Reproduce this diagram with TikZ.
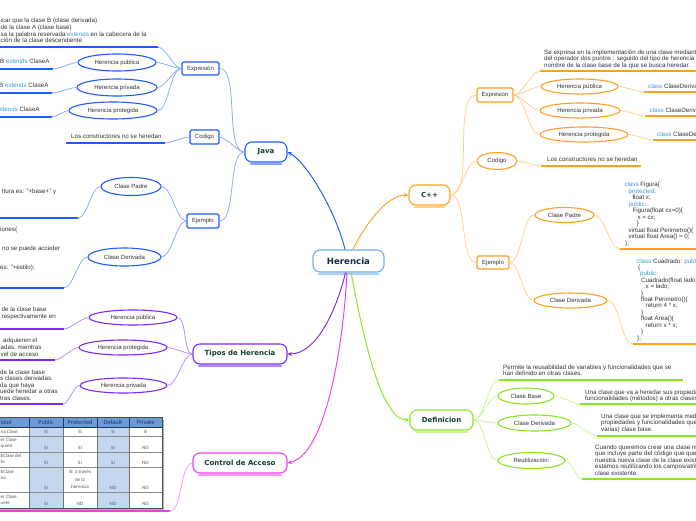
\documentclass[tikz,border=0pt]{standalone}
\usepackage{fontspec}
\setmainfont{Liberation Sans}
\newfontfamily\topicfont{DejaVu Sans}
\newfontfamily\tabfont{Carlito}
\usetikzlibrary{shapes.geometric,arrows.meta}
\definecolor{javaB}{HTML}{1F5BFF}
\definecolor{javaL}{HTML}{8AA8FF}
\definecolor{cppO}{HTML}{FFA022}
\definecolor{cppL}{HTML}{FFD08A}
\definecolor{tipP}{HTML}{7B2CF5}
\definecolor{tipL}{HTML}{B38CFF}
\definecolor{ctlM}{HTML}{F03CF0}
\definecolor{ctlL}{HTML}{F59AF5}
\definecolor{defG}{HTML}{88E820}
\definecolor{defL}{HTML}{C5F59A}
\definecolor{herB}{HTML}{6BB0E3}
\definecolor{herL}{HTML}{A9D1F0}
\definecolor{herT}{HTML}{18284A}
\definecolor{topicT}{HTML}{133D30}
\definecolor{kwc}{HTML}{3A9BD9}
\definecolor{txt}{HTML}{333333}
\definecolor{tabH}{HTML}{6A9AD8}
\definecolor{tabS}{HTML}{C5D7EE}
\definecolor{tabT}{HTML}{555555}
\definecolor{tabHT}{HTML}{1F3864}
\newcommand{\kwd}[1]{\textcolor{kwc}{#1}}
\tikzset{
  topic/.style={draw, line width=1.1pt, rounded corners=7pt, fill=white, minimum height=20pt, inner sep=0pt,
    font=\topicfont\bfseries\fontsize{7}{8}\selectfont, text=topicT},
  subbox/.style={draw, line width=1.1pt, rounded corners=1.5pt, fill=white, minimum height=14pt, inner sep=0pt,
    font=\fontsize{6}{7}\selectfont, text=txt},
  oval/.style={ellipse, draw, line width=1.1pt, fill=white, minimum height=15pt, inner sep=0pt,
    font=\fontsize{6}{7}\selectfont, text=txt},
  leaf/.style={inner sep=0pt, align=left, font=\fontsize{6.2}{6.6}\selectfont, text=txt, anchor=north west},
  uline/.style={line width=1.6pt},
  conn/.style={line width=0.75pt},
  gl/.style={out=180,in=0,looseness=0.6},
  gr/.style={out=0,in=180,looseness=0.6},
  mainarrow/.style={line width=0.95pt, -{Stealth[length=4.5pt,width=4pt]}},
  tabcell/.style={inner sep=0pt, font=\tabfont\fontsize{5}{5.6}\selectfont, text=tabT, align=center},
  tshadow/.style={line width=1.3pt, line cap=round},
}
\begin{document}
\begin{tikzpicture}[x=1pt,y=-1pt]
\clip (0,0) rectangle (696,520);
\fill[white] (0,0) rectangle (696,520);

% ================= main topics
\node[topic, draw=herB, text=herT, minimum width=71pt, minimum height=22pt,
  font=\topicfont\bfseries\fontsize{8.6}{10}\selectfont] (her) at (348.5,261) {Herencia};
\node[topic, draw=javaB, minimum width=42pt] (java) at (266,152) {Java};
\node[topic, draw=cppO, minimum width=41pt] (cpp) at (429.5,195) {C++};
\node[topic, draw=tipP, minimum width=94pt] (tipos) at (240,354) {Tipos de Herencia};
\node[topic, draw=ctlM, minimum width=94pt] (ctl) at (240,463) {Control de Acceso};
\node[topic, draw=defG, minimum width=63pt] (def) at (441.5,420) {Definicion};

\draw[tshadow, herL] ([xshift=6pt,yshift=-1.3pt]her.south west) -- ([xshift=-6pt,yshift=-1.3pt]her.south east);
\draw[tshadow, javaL] ([xshift=6pt,yshift=-1.3pt]java.south west) -- ([xshift=-6pt,yshift=-1.3pt]java.south east);
\draw[tshadow, cppL] ([xshift=6pt,yshift=-1.3pt]cpp.south west) -- ([xshift=-6pt,yshift=-1.3pt]cpp.south east);
\draw[tshadow, tipL] ([xshift=6pt,yshift=-1.3pt]tipos.south west) -- ([xshift=-6pt,yshift=-1.3pt]tipos.south east);
\draw[tshadow, ctlL] ([xshift=6pt,yshift=-1.3pt]ctl.south west) -- ([xshift=-6pt,yshift=-1.3pt]ctl.south east);
\draw[tshadow, defL] ([xshift=6pt,yshift=-1.3pt]def.south west) -- ([xshift=-6pt,yshift=-1.3pt]def.south east);

\draw[mainarrow, javaB] ([xshift=-3.5pt]her.north) .. controls (337,215) and (308,163) .. (java.east);
\draw[mainarrow, cppO] ([xshift=4.5pt]her.north) .. controls (362,230) and (385,195) .. (cpp.west);
\draw[mainarrow, tipP] ([xshift=-3pt]her.south) .. controls (338,305) and (318,354) .. (tipos.east);
\draw[mainarrow, ctlM] ([xshift=-1.5pt]her.south) .. controls (343,350) and (325,455) .. (ctl.east);
\draw[mainarrow, defG] ([xshift=2.5pt]her.south) .. controls (362,330) and (380,420) .. (def.west);

% ================= Java branch
\node[subbox, draw=javaB, minimum width=37pt, minimum height=13pt] (jexp) at (200.5,68.5) {Expresión};
\node[subbox, draw=javaB, minimum width=29pt] (jcod) at (204.5,137) {Codigo};
\node[subbox, draw=javaB, minimum width=32pt] (jeje) at (203,221) {Ejemplo};
\node[oval, draw=javaB, minimum width=78pt, minimum height=17pt] (jpub) at (117,62.5) {Herencia publica};
\node[oval, draw=javaB, minimum width=80pt, minimum height=17pt] (jpriv) at (117,87.5) {Herencia privada};
\node[oval, draw=javaB, minimum width=88pt, minimum height=17pt] (jprot) at (113,110.5) {Herencia protegida};
\node[oval, draw=javaB, minimum width=60pt, minimum height=18pt] (jpad) at (131,186.5) {Clase Padre};
\node[oval, draw=javaB, minimum width=73pt, minimum height=18pt] (jder) at (124.5,257) {Clase Derivada};

\draw[uline, javaB] (-3,47) -- (158,47) coordinate (ju0);
\draw[uline, javaB] (-3,69) -- (53,69) coordinate (ju1);
\draw[uline, javaB] (-3,93) -- (52,93) coordinate (ju2);
\draw[uline, javaB] (-3,117) -- (52,117) coordinate (ju3);
\draw[uline, javaB] (66,143) -- (165,143) coordinate (jcu);
\draw[uline, javaB] (-3,218) -- (78,218) coordinate (jpu);
\draw[uline, javaB] (-3,288) -- (64,288) coordinate (jdu);

\node[leaf] (jt0) at (0.5,18.3) {icar que la clase B (clase derivada)\\de la clase A (clase base)\\sa la palabra reservada \kwd{extends} en la cabecera de la\\ción de la clase descendiente};
\node[leaf] (jt1) at (0,59.3) {B \kwd{extends} ClaseA};
\node[leaf] (jt2) at (-1,83.3) {B \kwd{extends} ClaseA};
\node[leaf] (jt3) at (-4,107.3) {\kwd{extends} ClaseA};
\node[leaf] (jtc) at (71,134.3) {Los constructores no se heredan};
\node[leaf] (jtp) at (2,189.3) {ltura es: "+base+" y};
\node[leaf] (jtd1) at (0,227.3) {iones\{};
\node[leaf] (jtd2) at (2,246.3) {no se puede acceder};
\node[leaf] (jtd3) at (0,265.3) {es: "+estilo);};

\begin{scope}[conn, javaL]
\draw (java.west) to[gl] (jexp.east);
\draw (java.west) to[gl] (jcod.east);
\draw (java.west) to[gl] (jeje.east);
\draw (jexp.west) to[gl] (ju0);
\draw (jexp.west) to[gl] (jpub.east);
\draw (jexp.west) to[gl] (jpriv.east);
\draw (jexp.west) to[gl] (jprot.east);
\draw (jpub.west) to[gl] (ju1);
\draw (jpriv.west) to[gl] (ju2);
\draw (jprot.west) to[gl] (ju3);
\draw (jcod.west) to[gl] (jcu);
\draw (jeje.west) to[gl] (jpad.east);
\draw (jeje.west) to[gl] (jder.east);
\draw (jpad.west) to[gl] (jpu);
\draw (jder.west) to[gl] (jdu);
\end{scope}

% ================= Tipos de Herencia
\node[oval, draw=tipP, minimum width=88pt] (tpub) at (133,317.5) {Herencia pública};
\node[oval, draw=tipP, minimum width=88pt] (tprot) at (123,347.5) {Herencia protegida};
\node[oval, draw=tipP, minimum width=87pt] (tpriv) at (123.5,385.5) {Herencia privada};
\draw[uline, tipP] (-3,329) -- (64,329) coordinate (tu1);
\draw[uline, tipP] (-3,360) -- (55,360) coordinate (tu2);
\draw[uline, tipP] (-3,404) -- (63,404) coordinate (tu3);
\node[leaf] (tt1) at (1.5,307.3) {de la clase base\\respectivamente en};
\node[leaf] (tt2) at (0.5,338.3) {\hspace*{2.5pt}adquieren el\\adas, mientras\\vel de acceso};
\node[leaf] (tt3) at (0,369.3) {de la clase base\\s clases derivadas.\\da que haya\\uede heredar a otras\\tras clases.};
\begin{scope}[conn, tipL]
\draw (tipos.west) to[gl] (tpub.east);
\draw (tipos.west) to[gl] (tprot.east);
\draw (tipos.west) to[gl] (tpriv.east);
\draw (tpub.west) to[gl] (tu1);
\draw (tprot.west) to[gl] (tu2);
\draw (tpriv.west) to[gl] (tu3);
\end{scope}

% ================= Control de Acceso (table)
\fill[black!30] (-10,419.5) rectangle (164,510);
\fill[white] (-10,417) rectangle (162,508);
\fill[tabH] (-10,417) rectangle (162,427);
\fill[tabS] (29,427) rectangle (63,508);
\fill[tabS] (97,427) rectangle (129,508);
\draw[black!45, line width=0.3pt] (-10,436) -- (162,436) (-10,452) -- (162,452) (-10,467) -- (162,467) (-10,492) -- (162,492);
\draw[black!55, line width=0.3pt] (29,427) -- (29,508) (63,427) -- (63,508) (97,427) -- (97,508) (129,427) -- (129,508);
\draw[tabHT, line width=0.5pt] (29,417) -- (29,427) (63,417) -- (63,427) (97,417) -- (97,427) (129,417) -- (129,427) (-10,427) -- (162,427);
\draw[black!70, line width=0.6pt] (-10,417) rectangle (162,508);
\begin{scope}[tabcell]
\node[font=\tabfont\fontsize{6.3}{7}\selectfont, text=tabHT, anchor=west] (th0) at (0.5,422.5) {idad};
\node[font=\tabfont\fontsize{6.3}{7}\selectfont, text=tabHT] (th1) at (46,422.5) {Public};
\node[font=\tabfont\fontsize{6.3}{7}\selectfont, text=tabHT] (th2) at (80,422.5) {Protected};
\node[font=\tabfont\fontsize{6.3}{7}\selectfont, text=tabHT] (th3) at (113,422.5) {Default};
\node[font=\tabfont\fontsize{6.3}{7}\selectfont, text=tabHT] (th4) at (145.5,422.5) {Private};
\node[anchor=west] (tl1) at (0.5,431.5) {na Clase};
\node[anchor=north west, align=left] (tl2) at (0.5,437.8) {er Clase\\quete};
\node[anchor=north west, align=left] (tl3) at (0.5,453.8) {bClase del\\te};
\node[anchor=north west, align=left] (tl4) at (0.5,469.8) {bClase\\no};
\node[anchor=north west, align=left] (tl5) at (0.5,494.8) {er Clase\\uete};
\node (v11) at (46,431.5) {Si};   \node (v12) at (80,431.5) {Si};   \node (v13) at (113,431.5) {Si};   \node (v14) at (145.5,431.5) {Si};
\node (v21) at (46,448) {SI};     \node (v22) at (80,448) {SI};     \node (v23) at (113,448) {SI};     \node (v24) at (145.5,448) {NO};
\node (v31) at (46,462.5) {SI};   \node (v32) at (80,462.5) {SI};   \node (v33) at (113,462.5) {SI};   \node (v34) at (145.5,462.5) {NO};
\node (v41) at (46,488) {SI};
\node[anchor=north, font=\tabfont\fontsize{5}{7.6}\selectfont] (v42) at (80,469.8) {SI, a través\\de la\\herencia};
\node (v43) at (113,488) {NO};    \node (v44) at (145.5,488) {NO};
\node (v51) at (46,504) {SI};     \node (v52) at (80,504) {NO};     \node (v53) at (113,504) {NO};     \node (v54) at (145.5,504) {NO};
\end{scope}
\draw[uline, ctlM] (-3,511) -- (170,511) coordinate (cu);
\draw[conn, ctlL] (ctl.west) to[gl] (cu);

% ================= C++ branch
\node[subbox, draw=cppO, minimum width=36pt] (cexp) at (495,95) {Expresion};
\node[oval, draw=cppO, minimum width=40pt, minimum height=17pt] (ccod) at (497,161) {Codigo};
\node[subbox, draw=cppO, minimum width=32pt, minimum height=13pt] (ceje) at (493,262.5) {Ejemplo};
\node[oval, draw=cppO, minimum width=77pt] (cpub) at (579.5,86.5) {Herencia publica};
\node[oval, draw=cppO, minimum width=80pt] (cpriv) at (580,110.5) {Herencia privada};
\node[oval, draw=cppO, minimum width=88pt] (cprot) at (584,134.5) {Herencia protegida};
\node[oval, draw=cppO, minimum width=59pt] (cpad) at (564.5,215) {Clase Padre};
\node[oval, draw=cppO, minimum width=73pt] (cder) at (570.5,300.5) {Clase Derivada};
\draw[uline, cppO] (540,71) coordinate (cu0) -- (700,71);
\draw[uline, cppO] (644,92) coordinate (cu1) -- (700,92);
\draw[uline, cppO] (645,116) coordinate (cu2) -- (700,116);
\draw[uline, cppO] (653,140) coordinate (cu3) -- (700,140);
\draw[uline, cppO] (541,166) coordinate (ccu) -- (641,166);
\draw[uline, cppO] (620,249) coordinate (cpu) -- (700,249);
\draw[uline, cppO] (633,344) coordinate (cdu) -- (700,344);
\node[leaf] (ct0) at (544,49.3) {Se expresa en la implementación de una clase mediante\\del operador dos puntos : seguido del tipo de herencia\\nombre de la clase base de la que se busca heredar.};
\node[leaf] (ct1) at (648,84) {\kwd{class} ClaseDerivada};
\node[leaf] (ct2) at (649.5,108) {\kwd{class} ClaseDerivada};
\node[leaf] (ct3) at (657,131.5) {\kwd{class} ClaseDerivada};
\node[leaf] (ctc) at (547,157.3) {Los constructores no se heredan};
\node[leaf, font=\fontsize{6.2}{6.45}\selectfont] (ctp) at (624.3,182.3) {\kwd{class} Figura\{\\
\hspace*{4pt}\kwd{protected:}\\
\hspace*{8pt}float x;\\
\hspace*{4pt}\kwd{public:}\\
\hspace*{8pt}Figura(float cx=0)\{\\
\hspace*{13pt}x = cx;\\
\hspace*{12.3pt}\}\\
\hspace*{4pt}virtual float Perimetro()\{\\
\hspace*{4pt}virtual float Area() = 0;\\
\hspace*{0.7pt}\};};
\node[leaf, font=\fontsize{6.2}{6.42}\selectfont] (ctd) at (637,258.3) {\kwd{class} Cuadrado: \kwd{public} Figura\{\\
\hspace*{1pt}\{\\
\hspace*{3pt}\kwd{public:}\\
\hspace*{4pt}Cuadrado(float lado)\{\\
\hspace*{8.5pt}x = lado;\\
\hspace*{4pt}\}\\
\hspace*{4pt}float Perimetro()\{\\
\hspace*{8.5pt}return 4 * x;\\
\hspace*{4pt}\}\\
\hspace*{4pt}float Area()\{\\
\hspace*{8.5pt}return x * x;\\
\hspace*{4pt}\}\\
\};};
\begin{scope}[conn, cppL]
\draw (cpp.east) to[gr] (cexp.west);
\draw (cpp.east) to[gr] (ccod.west);
\draw (cpp.east) to[gr] (ceje.west);
\draw (cexp.east) to[gr] (cu0);
\draw (cexp.east) to[gr] (cpub.west);
\draw (cexp.east) to[gr] (cpriv.west);
\draw (cexp.east) to[gr] (cprot.west);
\draw (cpub.east) to[gr] (cu1);
\draw (cpriv.east) to[gr] (cu2);
\draw (cprot.east) to[gr] (cu3);
\draw (ccod.east) to[gr] (ccu);
\draw (ceje.east) to[gr] (cpad.west);
\draw (ceje.east) to[gr] (cder.west);
\draw (cpad.east) to[gr] (cpu);
\draw (cder.east) to[gr] (cdu);
\end{scope}

% ================= Definicion branch
\node[oval, draw=defG, minimum width=56pt, minimum height=16pt] (dbase) at (526,396) {Clase Base};
\node[oval, draw=defG, minimum width=73pt, minimum height=16pt] (dder) at (534.5,423) {Clase Derivada};
\node[oval, draw=defG, minimum width=67pt, minimum height=16pt] (dreu) at (531.5,460.5) {Reutilización:};
\draw[uline, defG] (499,380) coordinate (du0) -- (683,380);
\draw[uline, defG] (580,404) coordinate (du1) -- (700,404);
\draw[uline, defG] (597,436) coordinate (du2) -- (700,436);
\draw[uline, defG] (582,479) coordinate (du3) -- (700,479);
\node[leaf] (dt0) at (503,364.3) {Permite la reusabilidad de variables y funcionalidades que se\\han definido en otras clases.};
\node[leaf] (dt1) at (585,389.3) {Una clase que va a heredar sus propiedades y\\funcionalidades (métodos) a otras clases.};
\node[leaf] (dt2) at (601,413.3) {Una clase que se implementa mediante\\propiedades y funcionalidades que\\varias) clase base.};
\node[leaf] (dt3) at (595,444.3) {Cuando queremos crear una clase nueva\\que incluye parte del código que queremos\\nuestra nueva clase de la clase existente\\estamos reutilizando los campos/atributos\\clase existente.};
\begin{scope}[conn, defL]
\draw (def.east) to[gr] (du0);
\draw (def.east) to[gr] (dbase.west);
\draw (def.east) to[gr] (dder.west);
\draw (def.east) to[gr] (dreu.west);
\draw (dbase.east) to[gr] (du1);
\draw (dder.east) to[gr] (du2);
\draw (dreu.east) to[gr] (du3);
\end{scope}
\end{tikzpicture}
\end{document}
